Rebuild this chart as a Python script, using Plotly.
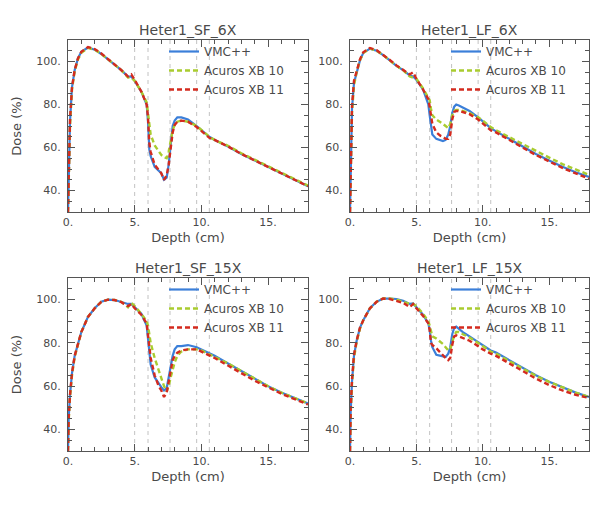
import plotly.graph_objects as go

# ---------------- data ----------------
depth = [0, 0.05, 0.15, 0.3, 0.5, 0.75, 1.0, 1.5, 2.0, 2.5, 3.0, 3.5, 4.0,
         4.5, 4.75, 5.0, 5.5, 5.9,
         6.0, 6.1, 6.2, 6.5, 6.8,
         7.0, 7.2, 7.4, 7.55, 7.7, 7.85,
         8.0, 8.2, 8.5, 9.0, 9.65,
         10.0, 10.6, 11.0,
         12, 13, 14, 15, 16, 17, 18]

sf6_vmc = [30, 50, 72, 88, 96, 101.5, 104.5, 106.5, 105.5, 103.5, 101, 98.5, 96,
           93, 93, 91, 86, 80,
           72, 59, 56, 51, 49,
           48, 45, 46, 52, 62, 70,
           72.5, 74, 74, 73, 70,
           68, 65, 63.5,
           60.5, 57, 54, 51, 48, 45, 42]
sf6_axb10 = [30, 48, 70, 87, 95.5, 101, 104, 106.3, 105.5, 103.5, 101, 98.5, 96,
             92.5, 92.5, 91, 86, 81,
             76, 70, 66, 61, 58,
             56.5, 55.5, 55, 58, 63, 68,
             70.5, 72, 72.5, 72, 70,
             68, 65, 63.5,
             60.8, 57.3, 54.3, 51.3, 48.3, 45.3, 42.3]
sf6_axb11 = [30, 52, 73, 88, 96, 101.5, 104.5, 106.7, 105.8, 103.7, 101.2, 98.6, 96,
             93, 94, 91.5, 86, 80,
             74, 62, 58, 52, 49.5,
             48, 45, 47, 52, 60, 67,
             70.5, 72, 72.5, 72, 69.5,
             67.5, 64.5, 63.5,
             60.5, 57, 54, 51, 48, 45, 42]

lf6_vmc = [30, 55, 78, 90, 95, 100.5, 104, 106, 105, 103, 100.5, 98, 96,
           93.5, 93, 91.5, 87, 80,
           75, 69, 66, 64, 63.5,
           63, 63.5, 66, 70, 76, 79,
           80, 79.5, 78.5, 77, 74,
           72, 69, 67.5,
           64, 60.5, 57, 54, 51, 48.5, 46.3]
lf6_axb10 = [30, 52, 76, 89, 95, 100.5, 104, 106, 105, 103, 100.5, 98, 96,
             93, 92.5, 92, 87.5, 83.5,
             82, 78, 75, 73, 72,
             71, 70, 69, 71, 75, 77,
             77.5, 77.5, 77, 76, 74,
             72.5, 69.5, 68,
             64.8, 61.5, 58.3, 55.3, 52.3, 49.7, 47.3]
lf6_axb11 = [30, 56, 79, 91, 95.5, 101, 104.3, 106.3, 105.3, 103.2, 100.7, 98.2, 96.2,
             94, 95, 92, 87, 82.5,
             79, 75, 71, 67, 65.5,
             65, 64, 64, 66, 73, 76.5,
             77, 77, 76.5, 75.5, 73,
             71, 68, 67,
             63.5, 60, 56.5, 53.5, 50.5, 48, 45.5]

sf15_vmc = [30, 45, 56, 66, 74, 80, 85, 92, 96, 99, 100, 99.8, 99,
            98, 98, 96.5, 93.5, 88,
            82, 75, 70, 64, 61,
            59.5, 58, 59, 64, 70, 74,
            77, 78.5, 78.5, 79, 78,
            77, 75, 74,
            70.5, 67, 63.5, 60, 57, 54.5, 52]
sf15_axb10 = [30, 44, 55, 65, 73.5, 79.5, 85, 92, 96, 99, 100, 99.8, 99,
              96.5, 98.5, 97, 93.5, 90,
              88, 84, 80, 73, 67,
              63.5, 60, 57.5, 60, 64, 68,
              71, 74, 76, 77, 77,
              76.5, 74.5, 73.5,
              70.5, 67, 63.5, 60, 57, 54.5, 52]
sf15_axb11 = [30, 45, 56, 66, 74, 80, 85, 92, 96, 99, 100, 99.8, 98.8,
              97, 98, 96, 93, 89,
              84, 78, 73, 65, 60,
              58, 55, 57, 62, 68, 72,
              74, 75.5, 76.5, 77, 77,
              76, 74, 73,
              69.5, 66, 62.5, 59.5, 56.5, 54, 51.5]

lf15_vmc = [30, 48, 62, 74, 81, 87, 90.5, 96, 99, 100.5, 100.5, 100.3, 99.5,
            98, 98.2, 96.5, 93, 89,
            86, 81, 78, 74.5, 74,
            74, 73.5, 75, 78, 84, 87,
            87.5, 86.5, 85, 83, 80.5,
            79, 76.5, 75.5,
            72, 68.5, 65, 62, 59.5, 57, 55]
lf15_axb10 = [30, 47, 61, 73, 80.5, 86.5, 90.5, 96, 99, 100.5, 100.5, 100, 99,
              98, 98, 97, 93.5, 90,
              88, 85, 83, 82, 80.5,
              79.5, 78, 76.5, 77, 80, 83.5,
              85, 85, 84, 82.5, 80,
              78.5, 76, 75,
              71.5, 68, 64.8, 62, 59.5, 57, 55]
lf15_axb11 = [30, 49, 63, 74.5, 81, 87, 90.5, 96, 99, 100.5, 100.3, 99.5, 98.5,
              96.5, 98, 96, 92.5, 89,
              86, 80, 79, 77.5, 75.5,
              74.5, 73, 72, 73, 79, 83,
              83.5, 83, 82, 81, 78.5,
              77, 75, 74,
              70.5, 67, 63.5, 60.5, 58, 56, 54.5]

panel_titles = ["Heter1_SF_6X", "Heter1_LF_6X", "Heter1_SF_15X", "Heter1_LF_15X"]
series_names = ["VMC++", "Acuros XB 10", "Acuros XB 11"]
interfaces = [5.0, 6.0, 7.65, 9.65, 10.6]

panels = [
    (sf6_vmc, sf6_axb10, sf6_axb11),
    (lf6_vmc, lf6_axb10, lf6_axb11),
    (sf15_vmc, sf15_axb10, sf15_axb11),
    (lf15_vmc, lf15_axb10, lf15_axb11),
]

# ---------------- layout geometry ----------------
W, H = 600, 508
boxes = [  # (left, right, top, bottom) in px
    (68, 308, 40, 212),
    (350, 589, 40, 212),
    (68, 308, 278, 451),
    (350, 589, 278, 451),
]
colors = ["#3b7fd9", "#a9cc2f", "#d42a1e"]
dashes = ["solid", "5px,3px", "5px,3px"]
widths = [2.2, 2.4, 2.4]
TXT = "#4a4a4a"
FONT = "DejaVu Sans"

fig = go.Figure()
for i, (series, box) in enumerate(zip(panels, boxes)):
    n = "" if i == 0 else str(i + 1)
    leg = "legend" if i == 0 else f"legend{i + 1}"
    for s, name, c, d, w in zip(series, series_names, colors, dashes, widths):
        fig.add_trace(go.Scatter(
            x=depth, y=s, mode="lines", name=name,
            line=dict(color=c, dash=d, width=w),
            xaxis="x" + n, yaxis="y" + n, legend=leg))

layout = dict(width=W, height=H, margin=dict(l=0, r=0, t=0, b=0),
              paper_bgcolor="white", plot_bgcolor="white",
              font=dict(family=FONT, color=TXT, size=11),
              annotations=[], shapes=[])

for i, box in enumerate(boxes):
    n = "" if i == 0 else str(i + 1)
    l, r, t, b = box
    xd = [l / W, r / W]
    yd = [1 - b / H, 1 - t / H]
    layout["xaxis" + n] = dict(
        domain=xd, anchor="y" + n, range=[0, 18],
        tick0=0, dtick=5, ticksuffix=".", ticks="inside", ticklen=7,
        tickcolor="#555", showline=True, linecolor="#555", linewidth=1,
        mirror="allticks", showgrid=False, zeroline=False, automargin=False,
        minor=dict(dtick=1, ticks="inside", ticklen=4, tickcolor="#555", showgrid=False),
        tickfont=dict(size=11, color=TXT),
        title=dict(text="Depth (cm)", font=dict(size=13, color=TXT), standoff=4))
    layout["yaxis" + n] = dict(
        domain=yd, anchor="x" + n, range=[30, 110],
        tick0=0, dtick=20, ticksuffix=".", ticks="inside", ticklen=7,
        tickcolor="#555", showline=True, linecolor="#555", linewidth=1,
        mirror="allticks", showgrid=False, zeroline=False, automargin=False,
        minor=dict(dtick=5, ticks="inside", ticklen=4, tickcolor="#555", showgrid=False),
        tickfont=dict(size=11, color=TXT), ticklabelstandoff=4,
        title=dict(text="Dose (%)" if i in (0, 2) else "", font=dict(size=13, color=TXT), standoff=11))
    layout["annotations"].append(dict(
        text=panel_titles[i], xref="paper", yref="paper",
        x=(l + r) / 2 / W, y=1 - (t - 10) / H, xanchor="center", yanchor="middle",
        showarrow=False, font=dict(size=14, color=TXT)))
    for xv in interfaces:
        layout["shapes"].append(dict(
            type="line", xref="x" + n, yref="y" + n + " domain",
            x0=xv, x1=xv, y0=0, y1=1, layer="below",
            line=dict(color="#c2c2c2", width=1, dash="4px,4px")))
    legkey = "legend" if i == 0 else f"legend{i + 1}"
    layout[legkey] = dict(
        x=(l + 96) / W, y=1 - (t - 3) / H, xanchor="left", yanchor="top",
        bgcolor="rgba(0,0,0,0)", borderwidth=0,
        font=dict(size=12, color=TXT), tracegroupgap=0)

fig.update_layout(**layout)
fig.write_html("out.html", config={"displayModeBar": False},
               post_script="document.body.style.margin='0px';")
